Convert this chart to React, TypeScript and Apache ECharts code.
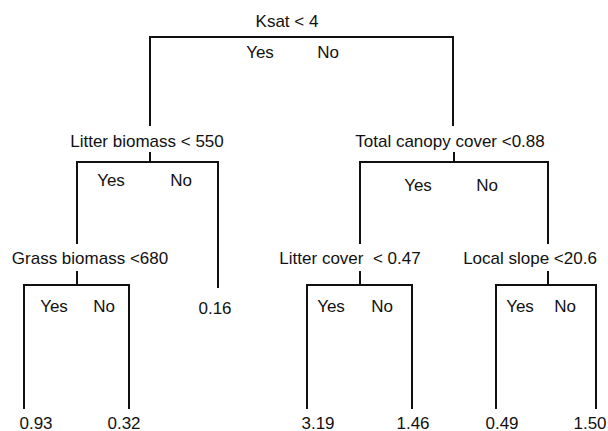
import React, { useEffect, useRef } from "react";
import * as echarts from "echarts";

// ---- tree content ----
const splitLabels = [
  "Ksat < 4",
  "Litter biomass < 550",
  "Total canopy cover <0.88",
  "Grass biomass <680",
  "Litter cover  < 0.47",
  "Local slope <20.6",
];
const leafLabels = ["0.93", "0.32", "0.16", "3.19", "1.46", "0.49", "1.50"];
const branchLabels = ["Yes", "No"];

// ---- layout (in axis units of a 608 x 431 canvas) ----
const splitBarY = [37, 162, 162, 285, 285, 285];
const splitLeftX = [150, 77, 360, 24, 307, 496];
const splitRightX = [453, 218, 548, 129, 412, 596];
const splitTickX: (number | null)[] = [null, 150, 454, 77, 360, 548];
const splitTickTop: (number | null)[] = [null, 153, 153, 272, 272, 272];
const childEndY = [
  [125, 125],
  [243, 287],
  [243, 243],
  [408, 408],
  [408, 408],
  [408, 408],
];
const splitLabelPos = [
  [287, 21],
  [147, 141],
  [450, 141],
  [90, 258],
  [350, 258],
  [530, 258],
];
const yesPos = [
  [260, 52],
  [111, 180],
  [418, 185],
  [54, 306],
  [331, 306],
  [520, 306],
];
const noPos = [
  [328, 52],
  [181, 180],
  [487, 185],
  [104, 306],
  [382, 306],
  [565, 306],
];
const leafPos = [
  [36, 423],
  [124, 423],
  [215, 308],
  [318, 423],
  [413, 423],
  [502, 423],
  [590, 423],
];

const FONT = "Liberation Sans, Arial, Helvetica, sans-serif";

export default function App() {
  const ref = useRef<HTMLDivElement>(null);

  useEffect(() => {
    document.body.style.margin = "0";
    if (!ref.current) return;
    const chart = echarts.init(ref.current, undefined, { renderer: "svg" });

    const segments: number[][] = [];
    splitLabels.forEach((_, i) => {
      const y = splitBarY[i];
      segments.push([splitLeftX[i], y, splitRightX[i], y]);
      const tx = splitTickX[i];
      const tt = splitTickTop[i];
      if (tx !== null && tt !== null) segments.push([tx, tt, tx, y]);
      segments.push([splitLeftX[i], y, splitLeftX[i], childEndY[i][0]]);
      segments.push([splitRightX[i], y, splitRightX[i], childEndY[i][1]]);
    });

    const texts: { x: number; y: number; t: string }[] = [];
    splitLabels.forEach((t, i) => {
      texts.push({ x: splitLabelPos[i][0], y: splitLabelPos[i][1], t });
      texts.push({ x: yesPos[i][0], y: yesPos[i][1], t: branchLabels[0] });
      texts.push({ x: noPos[i][0], y: noPos[i][1], t: branchLabels[1] });
    });
    leafLabels.forEach((t, i) => {
      texts.push({ x: leafPos[i][0], y: leafPos[i][1], t });
    });

    chart.setOption({
      animation: false,
      backgroundColor: "#ffffff",
      grid: { left: 0, right: 0, top: 0, bottom: 0 },
      xAxis: { type: "value", min: 0, max: 608, show: false },
      yAxis: { type: "value", min: 0, max: 431, inverse: true, show: false },
      series: [
        {
          type: "custom",
          clip: false,
          silent: true,
          data: segments,
          renderItem: (params: any, api: any) => {
            const p1 = api.coord([api.value(0), api.value(1)]);
            const p2 = api.coord([api.value(2), api.value(3)]);
            return {
              type: "line",
              shape: { x1: p1[0], y1: p1[1], x2: p2[0], y2: p2[1] },
              style: { stroke: "#111111", lineWidth: 2, lineCap: "square" },
            };
          },
        },
        {
          type: "custom",
          clip: false,
          silent: true,
          data: texts.map((d) => [d.x, d.y]),
          renderItem: (params: any, api: any) => {
            const p = api.coord([api.value(0), api.value(1)]);
            const d = texts[params.dataIndex];
            return {
              type: "text",
              x: p[0],
              y: p[1],
              style: {
                text: d.t,
                fill: "#111111",
                fontSize: 17,
                fontFamily: FONT,
                align: "center",
                verticalAlign: "middle",
                textAlign: "center",
                textVerticalAlign: "middle",
              },
            };
          },
        },
      ],
    });

    return () => chart.dispose();
  }, []);

  return <div ref={ref} style={{ width: 608, height: 431 }} />;
}
